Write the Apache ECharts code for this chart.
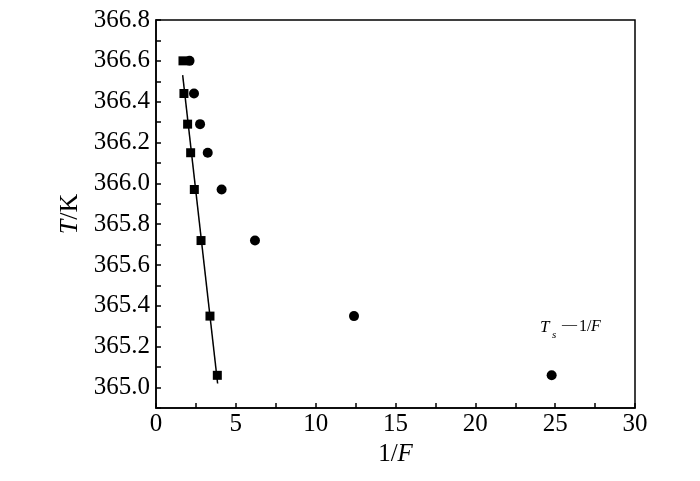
<!DOCTYPE html>
<html>
<head>
<meta charset="utf-8">
<script src="https://cdn.jsdelivr.net/npm/echarts@6/dist/echarts.min.js"></script>
<style>html,body{margin:0;padding:0;background:#fff}#c{width:700px;height:481px}</style>
</head>
<body>
<div id="c"></div>
<script>
// Data
const squareX = [1.69, 1.75, 1.98, 2.17, 2.40, 2.82, 3.38, 3.84];
const squareT = [366.60, 366.44, 366.29, 366.15, 365.97, 365.72, 365.35, 365.06];
const circleX = [2.10, 2.38, 2.76, 3.24, 4.11, 6.20, 12.40, 24.78];
const circleT = [366.60, 366.44, 366.29, 366.15, 365.97, 365.72, 365.35, 365.06];
const fitX = [1.67, 3.86];
const fitT = [366.53, 365.02];
const yTickLabels = ['365.0','365.2','365.4','365.6','365.8','366.0','366.2','366.4','366.6','366.8'];
const xTickLabels = ['0','5','10','15','20','25','30'];

const FONT = 'Liberation Serif';
const zip = (a, b) => a.map((v, i) => [v, b[i]]);

const chart = echarts.init(document.getElementById('c'), null, {renderer: 'canvas'});
chart.setOption({
  animation: false,
  backgroundColor: '#fff',
  grid: {left: 156, right: 65, top: 20, bottom: 73, show: true, borderColor: '#000', borderWidth: 1.5, outerBoundsMode: 'none'},
  xAxis: {
    type: 'value', min: 0, max: 30, interval: 5,
    name: '1/{i|F}', nameLocation: 'middle', nameGap: 22,
    nameTextStyle: {fontFamily: FONT, fontSize: 25, color: '#000', rich: {i: {fontStyle: 'italic', fontFamily: FONT, fontSize: 25, color: '#000'}}},
    axisLine: {show: true, lineStyle: {color: '#000', width: 1.5}},
    axisTick: {show: true, inside: true, length: 5, lineStyle: {color: '#000', width: 1.5}},
    minorTick: {show: true, splitNumber: 2, length: 5, lineStyle: {color: '#000', width: 1.5}},
    splitLine: {show: false},
    axisLabel: {fontFamily: FONT, fontSize: 25, color: '#000', margin: 4,
      formatter: v => xTickLabels.includes(String(Math.round(v))) ? String(Math.round(v)) : ''}
  },
  yAxis: {
    type: 'value', min: 364.9, max: 366.8, interval: 0.1,
    name: '{i|T}/K', nameLocation: 'middle', nameGap: 70,
    nameTextStyle: {fontFamily: FONT, fontSize: 26, color: '#000', rich: {i: {fontStyle: 'italic', fontFamily: FONT, fontSize: 26, color: '#000'}}},
    axisLine: {show: true, lineStyle: {color: '#000', width: 1.5}},
    axisTick: {show: true, inside: true, length: 5, lineStyle: {color: '#000', width: 1.5}},
    splitLine: {show: false},
    axisLabel: {fontFamily: FONT, fontSize: 25, color: '#000', margin: 6,
      formatter: v => { const s = (Math.round(v * 10) / 10).toFixed(1); return yTickLabels.includes(s) ? s : ''; }}
  },
  series: [
    {type: 'line', data: zip(fitX, fitT), showSymbol: false, symbol: 'none', lineStyle: {color: '#000', width: 1.5}, z: 1},
    {type: 'scatter', data: zip(squareX, squareT), symbol: 'rect', symbolSize: 9, itemStyle: {color: '#000', opacity: 1}, z: 3},
    {type: 'scatter', data: zip(circleX, circleT), symbol: 'circle', symbolSize: 10, itemStyle: {color: '#000', opacity: 1}, z: 2}
  ],
  graphic: [
    {type: 'text', left: 540, top: 319, style: {text: 'T', font: 'italic 17px "Liberation Serif"', fill: '#000'}},
    {type: 'text', left: 552, top: 330, style: {text: 's', font: 'italic 11px "Liberation Serif"', fill: '#000'}},
    {type: 'text', left: 562, top: 318, style: {text: '\u2014', font: '15px "Liberation Serif"', fill: '#000'}},
    {type: 'text', left: 579, top: 319, style: {text: '1/', font: '16px "Liberation Serif"', fill: '#000'}},
    {type: 'text', left: 591, top: 319, style: {text: 'F', font: 'italic 16px "Liberation Serif"', fill: '#000'}}
  ]
});
</script>
</body>
</html>
